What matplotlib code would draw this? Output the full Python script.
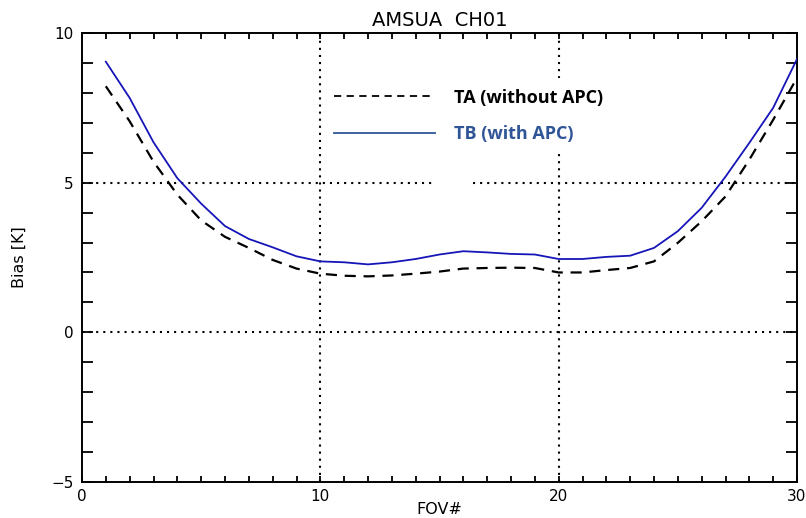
import numpy as np
import matplotlib
matplotlib.use("Agg")
import matplotlib.pyplot as plt
from matplotlib.lines import Line2D

# Scan-angle bias per field of view, AMSU-A channel 1
fov = np.arange(1, 31)
tb_bias = [9.04, 7.83, 6.35, 5.15, 4.30, 3.55, 3.12, 2.84, 2.54, 2.37,
           2.34, 2.27, 2.34, 2.45, 2.60, 2.71, 2.67, 2.62, 2.60, 2.45,
           2.45, 2.52, 2.56, 2.82, 3.38, 4.16, 5.20, 6.33, 7.50, 9.13]
ta_bias = [8.22, 7.05, 5.70, 4.60, 3.74, 3.19, 2.82, 2.42, 2.13, 1.96,
           1.89, 1.87, 1.90, 1.96, 2.03, 2.13, 2.15, 2.16, 2.15, 2.00,
           2.00, 2.08, 2.15, 2.37, 2.99, 3.71, 4.54, 5.77, 7.10, 8.50]

x_major = [0, 10, 20, 30]
y_major = [-5, 0, 5, 10]
legend_labels = ["TA (without APC)", "TB (with APC)"]

fig = plt.figure(figsize=(8.06, 5.18), dpi=100)
ax = fig.add_axes([82 / 806, 36 / 518, 715 / 806, 449 / 518])

dotted = (0, (1, 2.4))
ax.axvline(10, color="black", lw=1.5, ls=dotted, zorder=1)
ax.axvline(20, color="black", lw=1.5, ls=dotted, zorder=1)
ax.axhline(0, color="black", lw=1.5, ls=dotted, zorder=1)
# the y=5 grid line has a small gap in the original
ax.hlines(5, 0, 14.67, color="black", lw=1.5, ls=dotted, zorder=1)
ax.hlines(5, 16.4, 30, color="black", lw=1.5, ls=dotted, zorder=1)

ax.plot(fov, ta_bias, color="black", lw=1.6, ls=(0, (5, 3.5)), zorder=3)
ax.plot(fov, tb_bias, color="#1515b8", lw=1.3, zorder=3)

ax.set_xlim(0, 30)
ax.set_ylim(-5, 10)
ax.set_xticks(x_major)
ax.set_yticks(y_major)
ax.set_xticks(np.arange(0, 31, 1), minor=True)
ax.set_yticks(np.arange(-5, 11, 1), minor=True)
ax.tick_params(axis="both", which="both", direction="in", top=True, right=True,
               width=1.3, labelsize=11, colors="black")
ax.tick_params(axis="x", which="both", length=4, pad=5)
ax.tick_params(axis="y", which="both", length=8, pad=6)
for s in ax.spines.values():
    s.set_linewidth(1.4)

ax.set_title("AMSUA  CH01", fontsize=14, pad=5)
ax.set_xlabel("FOV#", fontsize=11.5)
ax.set_ylabel("Bias [K]", fontsize=11.5)
ax.xaxis.set_label_coords(0.5, -0.045)
ax.yaxis.set_label_coords(-0.077, 0.5)

handles = [Line2D([], [], color="black", lw=1.3, ls=(0, (4, 3))),
           Line2D([], [], color="#2f5597", lw=1.3)]
leg = ax.legend(handles, legend_labels, loc="upper left",
                bbox_to_anchor=(0.325, 0.92), frameon=True, fancybox=False,
                facecolor="white", edgecolor="none", framealpha=1,
                handlelength=5.6, handletextpad=1.05, labelspacing=1.0,
                borderpad=0.6,
                prop={"family": "Open Sans", "weight": "bold", "size": 13})
for t, c in zip(leg.get_texts(), ["black", "#2f5597"]):
    t.set_color(c)
leg.set_zorder(2)

fig.savefig("out.png", dpi=100)
